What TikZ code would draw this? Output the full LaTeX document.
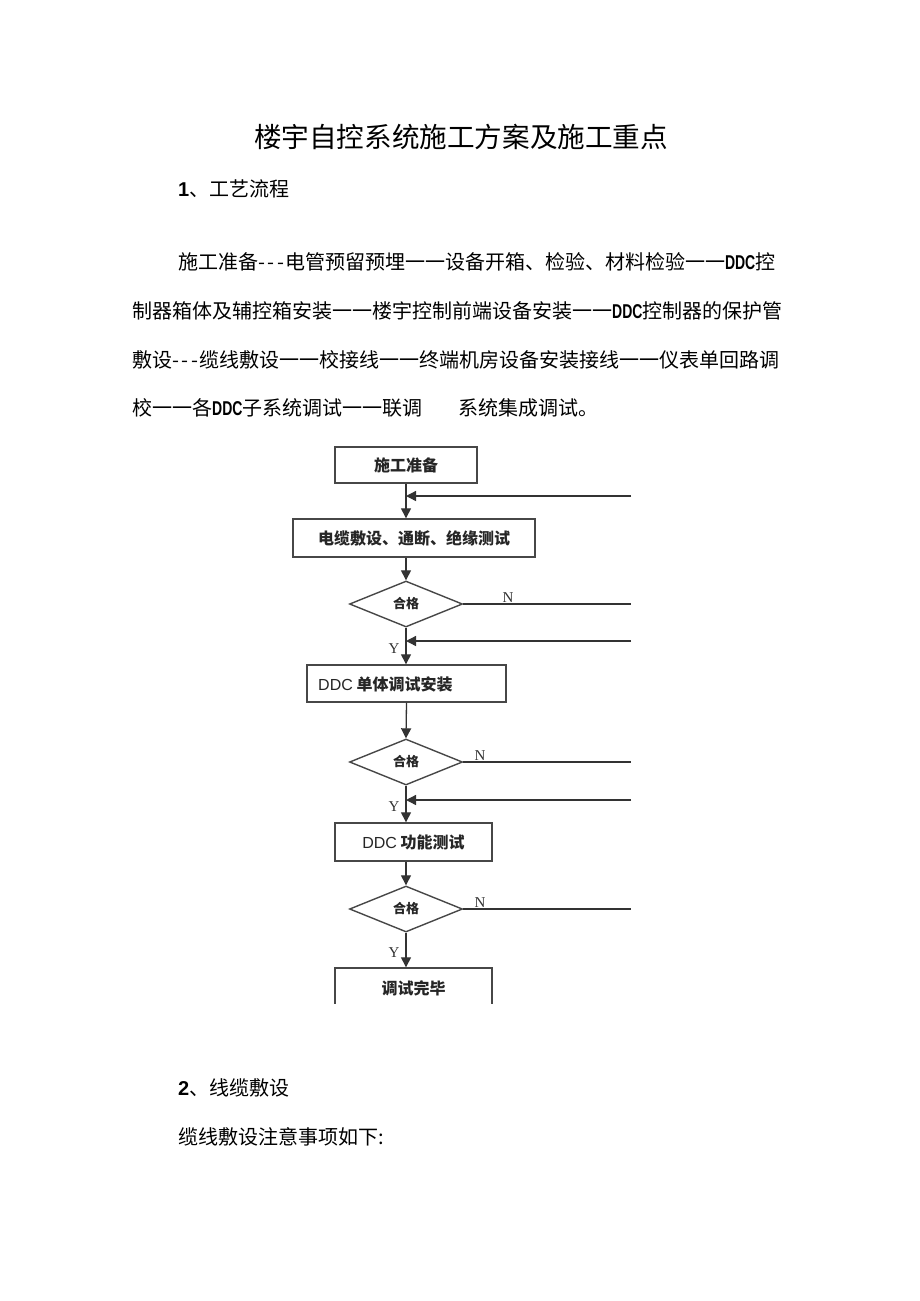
\documentclass[tikz,border=0pt]{standalone}
\usepackage{fontspec}
\setmainfont{Noto Sans CJK SC}
\newfontfamily\lat{Liberation Sans}
\newfontfamily\ser{Liberation Serif}
\newfontfamily\ddc[FakeStretch=0.7]{Liberation Sans Bold}
\newcommand{\tridash}{-\kern2.5pt-\kern2.5pt-\kern1pt}
\usetikzlibrary{arrows.meta,shapes.geometric}
\begin{document}
\begin{tikzpicture}[x=1pt,y=-1pt,
  body/.style={anchor=west,inner sep=0pt,font=\fontsize{20pt}{20pt}\selectfont},
  stepbox/.style={draw=black!72,line width=1.4pt,rectangle,inner sep=0pt,
    font=\fontsize{16pt}{16pt}\selectfont\bfseries,text=black!85},
  decide/.style={draw=black!72,line width=1.4pt,diamond,aspect=2.4,inner sep=0pt,
    minimum width=113pt,minimum height=46pt,font=\fontsize{13pt}{13pt}\selectfont\bfseries,text=black!85},
  flow/.style={draw=black!80,line width=1.3pt,-{Triangle[length=10pt,width=10pt]}},
  plain/.style={draw=black!80,line width=1.3pt},
  yn/.style={inner sep=0pt,font=\ser\fontsize{15pt}{15pt}\selectfont,text=black!80}]
\useasboundingbox (0,0) rectangle (920,1301);
\fill[white] (0,0) rectangle (920,1301);

% title and text
\node[inner sep=0pt,font=\fontsize{27.6pt}{27.6pt}\selectfont] (title) at (461,137) {楼宇自控系统施工方案及施工重点};
\node[body] (sec1) at (178,189) {{\lat\bfseries 1}、工艺流程};
\node[body] (l1) at (178,262) {施工准备\tridash 电管预留预埋一一设备开箱、检验、材料检验一一{\ddc DDC}控};
\node[body] (l2) at (132,311) {制器箱体及辅控箱安装一一楼宇控制前端设备安装一一{\ddc DDC}控制器的保护管};
\node[body] (l3) at (132,360) {敷设\tridash 缆线敷设一一校接线一一终端机房设备安装接线一一仪表单回路调};
\node[body] (l4) at (132,408) {校一一各{\ddc DDC}子系统调试一一联调\hspace{36pt}系统集成调试。};
\node[body] (sec2) at (178,1088) {{\lat\bfseries 2}、线缆敷设};
\node[body] (l5) at (178,1137) {缆线敷设注意事项如下:};

% flowchart boxes
\node[stepbox,minimum width=142pt,minimum height=36pt] (b1) at (406,465) {施工准备};
\node[stepbox,minimum width=242pt,minimum height=38pt] (b2) at (414,538) {电缆敷设、通断、绝缘测试};
\node[decide] (d1) at (406,604) {合格};
\node[stepbox,minimum width=199pt,minimum height=37pt] (b3) at (406.5,683.5) {};
\node[anchor=west,inner sep=0pt,font=\fontsize{16pt}{16pt}\selectfont\bfseries,text=black!85] (t3) at (318,684) {{\lat\mdseries DDC} 单体调试安装};
\node[decide] (d2) at (406,762) {合格};
\node[stepbox,minimum width=157pt,minimum height=38pt] (b4) at (413.5,842) {{\lat\mdseries DDC} 功能测试};
\node[decide] (d3) at (406,909) {合格};
\begin{scope}
\clip (0,0) rectangle (920,1003);
\node[stepbox,minimum width=157pt,minimum height=40pt] (b5) at (413.5,988) {调试完毕};
\end{scope}

% right-side free ends
\coordinate (f1) at (631,496);
\coordinate (n1) at (631,604);
\coordinate (f2) at (631,641);
\coordinate (n2) at (631,762);
\coordinate (f3) at (631,800);
\coordinate (n3) at (631,909);

% main flow
\draw[flow] (b1.south) -- (b1.south |- b2.north);
\draw[flow] (d1.north |- b2.south) -- (d1.north);
\draw[flow] (d1.south) -- (d1.south |- b3.north);
\draw[flow] (b3.south) -- (d2.north);
\draw[flow] (d2.south) -- (d2.south |- b4.north);
\draw[flow] (d3.north |- b4.south) -- (d3.north);
\draw[flow] (d3.south) -- (d3.south |- b5.north);

% feedback arrows
\draw[flow] (f1) -- (f1 -| b1.south);
\draw[flow] (f2) -- (f2 -| d1.south);
\draw[flow] (f3) -- (f3 -| d2.south);

% N branches
\draw[plain] (d1.east) -- (n1);
\draw[plain] (d2.east) -- (n2);
\draw[plain] (d3.east) -- (n3);

% labels
\node[yn] (N1) at (508,598) {N};
\node[yn] (N2) at (480,756) {N};
\node[yn] (N3) at (480,903) {N};
\node[yn] (Y1) at (394,649) {Y};
\node[yn] (Y2) at (394,807) {Y};
\node[yn] (Y3) at (394,953) {Y};
\end{tikzpicture}
\end{document}
